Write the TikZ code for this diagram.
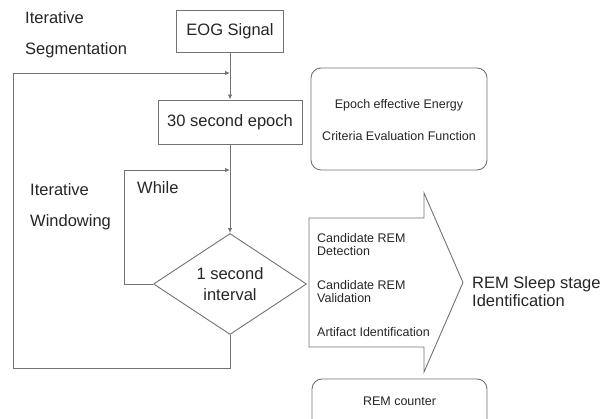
\documentclass[tikz,border=0pt]{standalone}
\usepackage{fontspec}
\setmainfont{Liberation Sans}
\usetikzlibrary{arrows.meta,shapes.geometric}
\begin{document}
\begin{tikzpicture}[x=1pt,y=-1pt,
  line/.style={draw=black!55, line width=0.9pt},
  box/.style={line, inner sep=0pt},
  big/.style={font=\fontsize{16.5}{20}\selectfont, text=black!85},
  small/.style={font=\fontsize{12.5}{15}\selectfont, text=black!85},
  lbl/.style={anchor=base west, inner sep=0pt},
  tip/.style={-{Latex[length=5pt,width=4.5pt]}},
]
\useasboundingbox (0,0) rectangle (604,419);
\clip (0,0) rectangle (604,419);
\fill[white] (0,0) rectangle (604,419);

% main flow
\node[box, big, minimum width=107pt, minimum height=42pt] (eog) at (230,31) {EOG Signal};
\node[box, big, minimum width=144pt, minimum height=44pt] (epoch) at (230,122) {30 second epoch};
\node[box, diamond, minimum width=153pt, minimum height=101pt] (win) at (230,284) {};
\node[big, inner sep=0pt] (win1) at (230,274) {1 second};
\node[big, inner sep=0pt] (win2) at (230,295) {interval};

% criteria box
\node[box, rounded corners=10pt, minimum width=176pt, minimum height=102pt] (crit) at (399,119) {};
\node[small, inner sep=0pt] (crit1) at (399,105) {Epoch effective Energy};
\node[small, inner sep=0pt] (crit2) at (399,136) {Criteria Evaluation Function};

% loop junctions
\coordinate (j1) at (230,73);
\coordinate (j2) at (230,170);
\coordinate (lo) at (13,368);
\coordinate (li) at (124,284);

\draw[line] (eog.south) -- (j1);
\draw[line, tip] (j1) -- (epoch.north);
\draw[line] (epoch.south) -- (j2);
\draw[line, tip] (j2) -- (win.north);
\draw[line, tip] (win.west) -- (li) |- (j2);
\draw[line, tip] (win.south) |- (lo) |- (j1);

% loop labels
\node[big, lbl] (segA) at (25,24) {Iterative};
\node[big, lbl] (segB) at (25,55) {Segmentation};
\node[big, lbl] (winA) at (30,196) {Iterative};
\node[big, lbl] (winB) at (30,227) {Windowing};
\node[big, lbl] (while) at (137,194) {While};

% block arrow with the REM steps
\draw[line] (309,218) -- (424,218) -- (424,193) -- (463,282.5) -- (424,372) -- (424,347) -- (309,347) -- cycle;
\node[small, lbl] (s1) at (317,243) {Candidate REM};
\node[small, lbl] (s2) at (317,256) {Detection};
\node[small, lbl] (s3) at (317,289) {Candidate REM};
\node[small, lbl] (s4) at (317,302) {Validation};
\node[small, lbl] (s5) at (317,336) {Artifact Identification};

\node[big, lbl] (rem1) at (472,288) {REM Sleep stage};
\node[big, lbl] (rem2) at (472,306) {Identification};

% counter box
\node[box, rounded corners=10pt, minimum width=175pt, minimum height=50pt] (cnt) at (399.5,404) {};
\node[small, inner sep=0pt] (cntt) at (399.5,401.5) {REM counter};
\end{tikzpicture}
\end{document}
